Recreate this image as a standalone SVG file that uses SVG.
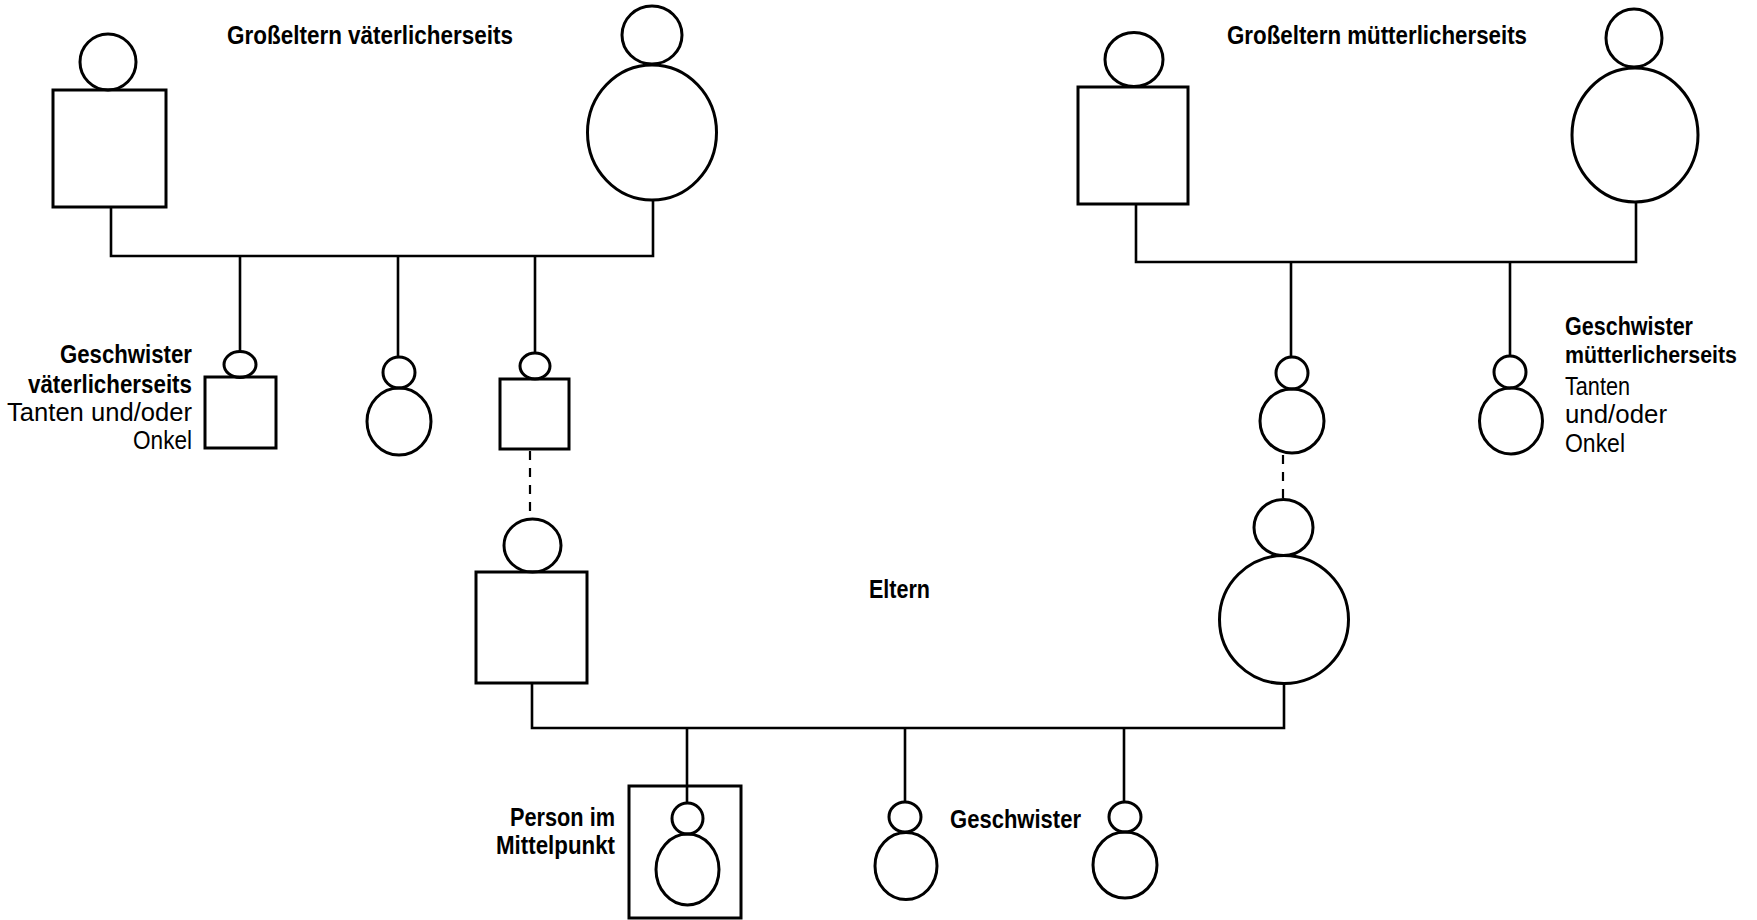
<svg xmlns="http://www.w3.org/2000/svg" width="1757" height="920" viewBox="0 0 1757 920">
<style>
.s{fill:none;stroke:#000;stroke-width:3}
.c{fill:none;stroke:#000;stroke-width:2.6}
.d{fill:none;stroke:#000;stroke-width:2.2;stroke-dasharray:9 8}
text{font-family:"Liberation Sans",Arial,sans-serif;font-size:25px;fill:#000}
.b{font-weight:bold}
.r{font-weight:normal}
</style>
<rect width="1757" height="920" fill="#fff"/>
<g id="connectors">
<path class="c" d="M111 207 V256 H653 V200"/>
<path class="c" d="M240 256 V352 M398 256 V357 M535 256 V353"/>
<path class="c" d="M1136 204 V262 H1636 V202"/>
<path class="c" d="M1291 262 V357 M1510 262 V356"/>
<path class="c" d="M532 683 V728 H1284 V683"/>
<path class="c" d="M687 728 V803 M905 728 V802 M1124 728 V802"/>
<path class="d" d="M530 451 V517"/>
<path class="d" d="M1283 455 V499"/>
</g>
<g id="pgf"><ellipse class="s" cx="108" cy="62" rx="28" ry="28"/><rect class="s" x="53" y="90" width="113" height="117"/></g>
<g id="pgm"><ellipse class="s" cx="652" cy="35" rx="30" ry="29"/><ellipse class="s" cx="652" cy="132.5" rx="64.5" ry="67.5"/></g>
<g id="mgf"><ellipse class="s" cx="1134" cy="59.5" rx="29" ry="27"/><rect class="s" x="1078" y="87" width="110" height="117"/></g>
<g id="mgm"><ellipse class="s" cx="1634" cy="38" rx="28" ry="29"/><ellipse class="s" cx="1635" cy="135" rx="63" ry="67"/></g>
<g id="ps1"><ellipse class="s" cx="240" cy="364.5" rx="16" ry="13"/><rect class="s" x="205" y="377" width="71" height="71"/></g>
<g id="ps2"><ellipse class="s" cx="399" cy="372.5" rx="16" ry="15.5"/><ellipse class="s" cx="399" cy="421.5" rx="32" ry="33.5"/></g>
<g id="ps3"><ellipse class="s" cx="535" cy="366" rx="15" ry="13"/><rect class="s" x="500" y="379" width="69" height="70"/></g>
<g id="ms1"><ellipse class="s" cx="1292" cy="373" rx="16" ry="16"/><ellipse class="s" cx="1292" cy="421" rx="32" ry="32"/></g>
<g id="ms2"><ellipse class="s" cx="1510" cy="372" rx="16" ry="16"/><ellipse class="s" cx="1511" cy="421" rx="31.5" ry="33"/></g>
<g id="father"><ellipse class="s" cx="532.5" cy="545.5" rx="28.5" ry="26.5"/><rect class="s" x="476" y="572" width="111" height="111"/></g>
<g id="mother"><ellipse class="s" cx="1283.5" cy="527.5" rx="29.5" ry="28"/><ellipse class="s" cx="1284" cy="619.5" rx="64.5" ry="64"/></g>
<g id="self"><rect class="s" x="629" y="786" width="112" height="132"/><ellipse class="s" cx="687.5" cy="818.5" rx="15.5" ry="15.5"/><ellipse class="s" cx="687.5" cy="869.5" rx="31.5" ry="35.5"/></g>
<g id="sib2"><ellipse class="s" cx="905" cy="817" rx="16" ry="15"/><ellipse class="s" cx="906" cy="866" rx="31" ry="33.5"/></g>
<g id="sib3"><ellipse class="s" cx="1125" cy="817" rx="16" ry="15"/><ellipse class="s" cx="1125" cy="865" rx="32" ry="33"/></g>
<g id="labels">
<text class="b" x="227" y="44" textLength="286" lengthAdjust="spacingAndGlyphs">Großeltern väterlicherseits</text>
<text class="b" x="1227" y="44" textLength="300" lengthAdjust="spacingAndGlyphs">Großeltern mütterlicherseits</text>
<text class="b" x="60" y="363" textLength="132" lengthAdjust="spacingAndGlyphs">Geschwister</text>
<text class="b" x="28" y="393" textLength="164" lengthAdjust="spacingAndGlyphs">väterlicherseits</text>
<text class="r" x="7" y="421" textLength="185" lengthAdjust="spacingAndGlyphs">Tanten und/oder</text>
<text class="r" x="133" y="449" textLength="59" lengthAdjust="spacingAndGlyphs">Onkel</text>
<text class="b" x="1565" y="335" textLength="128" lengthAdjust="spacingAndGlyphs">Geschwister</text>
<text class="b" x="1565" y="363" font-size="23" style="font-size:23px" textLength="172" lengthAdjust="spacingAndGlyphs">mütterlicherseits</text>
<text class="r" x="1565" y="395" textLength="65" lengthAdjust="spacingAndGlyphs">Tanten</text>
<text class="r" x="1565" y="423" textLength="102" lengthAdjust="spacingAndGlyphs">und/oder</text>
<text class="r" x="1565" y="452" textLength="60" lengthAdjust="spacingAndGlyphs">Onkel</text>
<text class="b" x="869" y="598" textLength="61" lengthAdjust="spacingAndGlyphs">Eltern</text>
<text class="b" x="510" y="826" textLength="105" lengthAdjust="spacingAndGlyphs">Person im</text>
<text class="b" x="496" y="854" textLength="119" lengthAdjust="spacingAndGlyphs">Mittelpunkt</text>
<text class="b" x="950" y="828" textLength="131" lengthAdjust="spacingAndGlyphs">Geschwister</text>
</g>
</svg>
